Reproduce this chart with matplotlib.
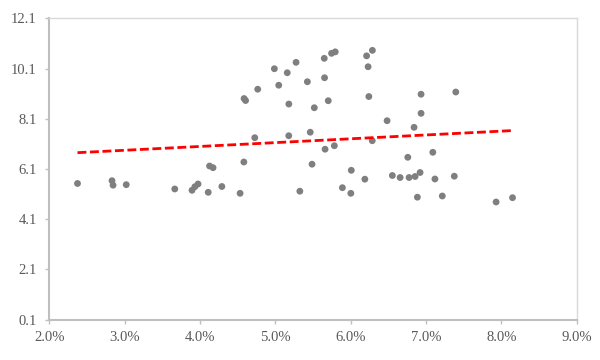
import numpy as np
import matplotlib
matplotlib.use("Agg")
import matplotlib.pyplot as plt
from matplotlib.ticker import FuncFormatter

# Data (x in %, y values)
x_pct = [2.374, 2.832, 2.846, 3.021, 3.665, 3.894, 3.932, 3.974, 4.109, 4.290,
         4.532, 4.127, 4.173, 4.582, 4.585, 4.605, 4.766, 4.987, 5.045, 5.158,
         5.179, 5.275, 4.727, 5.178, 5.325, 5.425, 5.463, 5.487, 5.517, 5.649,
         5.653, 5.660, 5.702, 5.746, 5.795, 5.783, 5.890, 6.002, 6.008, 6.188,
         6.211, 6.231, 6.288, 6.241, 6.286, 6.483, 6.553, 6.656, 6.758, 6.775,
         6.841, 6.855, 6.885, 6.921, 6.934, 6.934, 7.090, 7.118, 7.216, 7.375,
         7.395, 7.930, 8.148]
y_vals = [5.524, 5.635, 5.456, 5.476, 5.305, 5.253, 5.396, 5.504, 5.173, 5.404,
          5.133, 6.220, 6.153, 6.379, 8.907, 8.828, 9.278, 10.094, 9.437, 9.934,
          8.688, 10.348, 7.347, 7.426, 5.217, 9.576, 7.566, 6.292, 8.541, 10.508,
          9.735, 6.889, 8.820, 10.707, 10.766, 7.028, 5.356, 5.133, 6.049, 5.695,
          10.607, 10.173, 10.826, 8.987, 7.227, 8.024, 5.842, 5.762, 6.567, 5.762,
          7.761, 5.802, 4.978, 5.961, 9.078, 8.318, 6.766, 5.703, 5.026, 5.814,
          9.166, 4.787, 4.958]
x_ticks = [2.0, 3.0, 4.0, 5.0, 6.0, 7.0, 8.0, 9.0]
y_ticks = [0.1, 2.1, 4.1, 6.1, 8.1, 10.1, 12.1]

x = np.array(x_pct) / 100.0
y = np.array(y_vals)

plt.rcParams['font.family'] = ['Liberation Serif', 'DejaVu Serif']

fig = plt.figure(figsize=(6, 3.6), dpi=100)
ax = fig.add_axes([0.0822, 0.112, 0.879, 0.837])

ax.scatter(x, y, s=24, color='#7f7f7f', edgecolors='none', zorder=3)

# linear trendline
k, b = np.polyfit(x, y, 1)
xs = np.array([x.min(), x.max()])
ax.plot(xs, k * xs + b, color='#ff0000', linewidth=2.0, dashes=(3.2, 1.3), zorder=4)

ax.set_xlim(x_ticks[0] / 100, x_ticks[-1] / 100)
ax.set_ylim(y_ticks[0], y_ticks[-1])
ax.set_xticks(np.array(x_ticks) / 100)
ax.set_yticks(y_ticks)
ax.xaxis.set_major_formatter(FuncFormatter(lambda v, p: f"{v*100:.1f}%"))
ax.yaxis.set_major_formatter(FuncFormatter(lambda v, p: f"{v:.1f}"))

for side in ['left', 'bottom']:
    ax.spines[side].set_color('#bfbfbf')
    ax.spines[side].set_linewidth(1.5)
for side in ['top', 'right']:
    ax.spines[side].set_color('#d9d9d9')
    ax.spines[side].set_linewidth(1.0)

ax.tick_params(axis='both', direction='out', length=3, width=1.0, color='#bfbfbf',
               labelsize=10.5, labelcolor='#595959')
ax.tick_params(axis='x', pad=5)
ax.tick_params(axis='y', pad=6)

fig.savefig('out.png', dpi=100)
